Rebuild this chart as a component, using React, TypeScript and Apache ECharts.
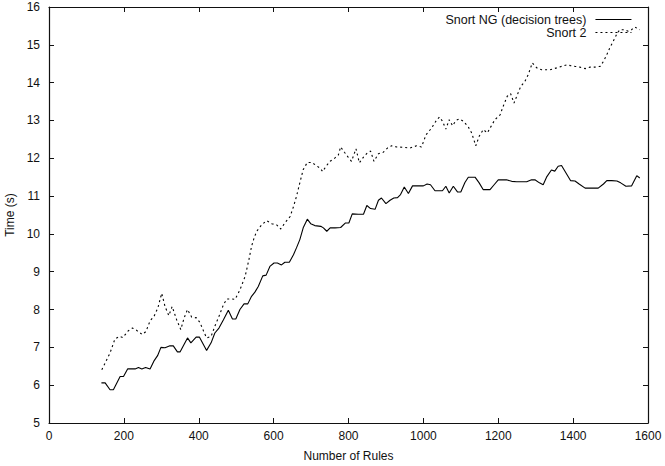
import React, { useEffect, useRef } from "react";
import * as echarts from "echarts";

const ngRules = [140,150,163,172,190,199,210,230,239,248,258,270,281,290,299,310,323,332,343,350,370,379,393,402,421,433,443,454,466,479,490,499,510,521,531,541,550,559,571,580,590,601,610,621,630,642,653,661,670,679,690,699,710,726,733,742,751,764,779,792,801,810,826,840,849,859,871,880,888,900,911,921,931,939,949,960,971,986,1000,1010,1019,1031,1043,1051,1060,1069,1080,1091,1100,1111,1120,1138,1149,1160,1178,1189,1200,1222,1236,1249,1276,1289,1298,1310,1320,1329,1342,1351,1360,1369,1381,1393,1405,1416,1432,1467,1481,1490,1503,1517,1527,1541,1556,1570,1578];
const ngTime = [6.06,6.06,5.88,5.88,6.23,6.23,6.43,6.43,6.47,6.43,6.47,6.43,6.65,6.78,7.0,6.99,7.04,7.04,6.88,6.88,7.25,7.12,7.27,7.27,6.92,7.12,7.38,7.51,7.73,7.98,7.75,7.75,8.0,8.15,8.15,8.35,8.46,8.61,8.89,8.91,9.14,9.23,9.23,9.18,9.25,9.25,9.45,9.63,9.85,10.16,10.39,10.27,10.22,10.2,10.16,10.07,10.16,10.16,10.17,10.29,10.29,10.53,10.52,10.52,10.75,10.67,10.65,10.89,10.95,10.8,10.89,10.95,10.96,11.04,11.24,11.07,11.27,11.27,11.27,11.32,11.3,11.14,11.14,11.14,11.26,11.08,11.26,11.11,11.11,11.36,11.5,11.5,11.35,11.17,11.17,11.3,11.43,11.43,11.39,11.38,11.38,11.43,11.43,11.35,11.3,11.5,11.69,11.66,11.79,11.81,11.61,11.41,11.4,11.32,11.21,11.21,11.32,11.41,11.41,11.4,11.35,11.26,11.27,11.54,11.48];

const s2Rules = [141,163,176,188,197,212,223,234,249,259,270,281,291,301,310,320,329,341,352,361,370,381,394,403,415,421,433,443,454,466,475,488,497,510,524,534,541,548,555,568,581,595,608,619,630,644,653,661,670,679,690,702,715,724,731,740,751,764,773,779,789,799,808,820,829,840,850,859,868,880,893,904,915,929,946,964,982,995,1007,1022,1036,1043,1051,1060,1069,1078,1087,1096,1107,1120,1129,1140,1149,1160,1171,1180,1191,1205,1213,1224,1233,1242,1251,1260,1271,1280,1291,1303,1316,1338,1356,1369,1383,1393,1405,1418,1432,1445,1458,1472,1481,1490,1498,1507,1518,1525,1538,1547,1556,1565,1578];
const s2Time = [6.41,6.85,7.22,7.29,7.26,7.44,7.51,7.45,7.34,7.42,7.7,7.83,8.05,8.43,8.08,7.84,8.08,7.73,7.47,7.78,8.0,7.8,7.78,7.66,7.38,7.25,7.29,7.56,7.82,8.13,8.28,8.28,8.27,8.52,8.88,9.32,9.67,9.9,10.07,10.24,10.35,10.27,10.24,10.13,10.29,10.46,10.72,10.99,11.35,11.7,11.89,11.89,11.8,11.74,11.65,11.79,11.92,12.01,12.09,12.3,12.16,12.03,11.92,12.25,11.88,12.03,12.14,12.19,11.92,12.12,12.16,12.27,12.33,12.3,12.29,12.27,12.33,12.3,12.62,12.8,13.02,13.09,12.98,12.77,13.02,12.86,13.0,13.04,12.98,12.83,12.67,12.33,12.58,12.76,12.67,12.83,13.02,13.15,13.37,13.64,13.71,13.46,13.68,13.9,14.03,14.21,14.52,14.39,14.34,14.34,14.39,14.43,14.47,14.45,14.43,14.41,14.37,14.41,14.41,14.43,14.56,14.74,14.92,15.09,15.31,15.4,15.4,15.36,15.4,15.47,15.4];

const seriesNames = ["Snort NG (decision trees)", "Snort 2"];
const xName = "Number of Rules";
const yName = "Time (s)";

const FONT = "'Liberation Sans', Arial, Helvetica, sans-serif";
const INK = "#111";

export default function App() {
  const ref = useRef<HTMLDivElement>(null);
  useEffect(() => {
    if (!ref.current) return;
    const chart = echarts.init(ref.current, undefined, { renderer: "svg" });
    const axisLine = { show: true, onZero: false, lineStyle: { color: INK, width: 1.2 } };
    const tick = { show: true, inside: true, length: 5, lineStyle: { color: INK, width: 1 } };
    const label = { color: INK, fontSize: 12, fontFamily: FONT };
    const plain = (v: number) => String(v);
    const legendBase = {
      right: 33, align: "right", orient: "vertical",
      itemWidth: 36, itemHeight: 8, padding: 0,
      itemStyle: { opacity: 0 },
      lineStyle: { width: 1.1 },
      textStyle: { ...label, fontSize: 12.5, padding: [0, 4, 0, 0] },
    };
    chart.setOption({
      animation: false,
      backgroundColor: "#fff",
      grid: { left: 49, right: 17, top: 7, bottom: 43, containLabel: false, outerBoundsMode: "none" },
      legend: [
        { ...legendBase, data: [seriesNames[0]], top: 13 },
        { ...legendBase, data: [seriesNames[1]], top: 26 },
      ],
      xAxis: [
        {
          type: "value", min: 0, max: 1600, interval: 200, position: "bottom",
          axisLine, axisTick: tick, splitLine: { show: false },
          axisLabel: { ...label, margin: 7, formatter: plain },
          name: xName, nameLocation: "middle", nameGap: 27,
          nameTextStyle: { ...label },
        },
        {
          type: "value", min: 0, max: 1600, interval: 200, position: "top",
          axisLine, axisTick: tick, splitLine: { show: false }, axisLabel: { show: false },
        },
      ],
      yAxis: [
        {
          type: "value", min: 5, max: 16, interval: 1, position: "left",
          axisLine, axisTick: tick, splitLine: { show: false },
          axisLabel: { ...label, margin: 9, formatter: plain },
          name: yName, nameLocation: "middle", nameGap: 29, nameRotate: 90,
          nameTextStyle: { ...label },
        },
        {
          type: "value", min: 5, max: 16, interval: 1, position: "right",
          axisLine, axisTick: tick, splitLine: { show: false }, axisLabel: { show: false },
        },
      ],
      series: [
        {
          name: seriesNames[0], type: "line", symbol: "none", showSymbol: false,
          data: ngRules.map((r, i) => [r, ngTime[i]]),
          lineStyle: { color: "#000", width: 1.1, type: "solid" },
          itemStyle: { color: "#000" },
        },
        {
          name: seriesNames[1], type: "line", symbol: "none", showSymbol: false,
          data: s2Rules.map((r, i) => [r, s2Time[i]]),
          lineStyle: { color: "#000", width: 1.1, type: [2, 3] },
          itemStyle: { color: "#000" },
        },
      ],
    });
    return () => chart.dispose();
  }, []);
  return <div ref={ref} style={{ width: 665, height: 466, position: "absolute", left: 0, top: 0 }} />;
}
